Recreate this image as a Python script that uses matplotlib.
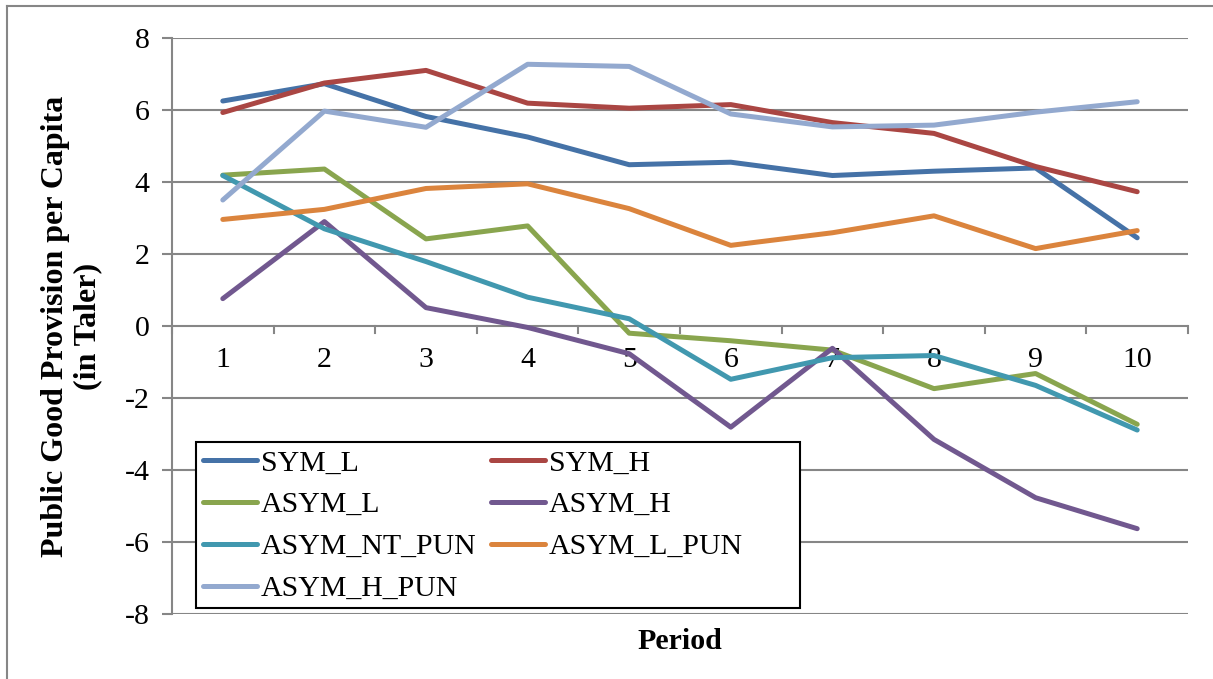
import matplotlib.pyplot as plt
from matplotlib.lines import Line2D
from matplotlib.patches import Rectangle

periods = [1, 2, 3, 4, 5, 6, 7, 8, 9, 10]

sym_l = [6.25, 6.73, 5.82, 5.25, 4.48, 4.55, 4.18, 4.30, 4.39, 2.45]
sym_h = [5.93, 6.75, 7.10, 6.19, 6.05, 6.15, 5.65, 5.35, 4.43, 3.73]
asym_l = [4.19, 4.36, 2.42, 2.78, -0.20, -0.41, -0.67, -1.74, -1.32, -2.73]
asym_h = [0.76, 2.90, 0.51, -0.04, -0.77, -2.81, -0.62, -3.15, -4.77, -5.63]
asym_nt_pun = [4.18, 2.70, 1.79, 0.80, 0.20, -1.48, -0.88, -0.82, -1.65, -2.89]
asym_l_pun = [2.96, 3.24, 3.82, 3.95, 3.26, 2.24, 2.59, 3.06, 2.15, 2.65]
asym_h_pun = [3.50, 5.97, 5.52, 7.27, 7.21, 5.89, 5.53, 5.58, 5.94, 6.23]

names = ["SYM_L", "SYM_H", "ASYM_L", "ASYM_H", "ASYM_NT_PUN", "ASYM_L_PUN", "ASYM_H_PUN"]
series = [sym_l, sym_h, asym_l, asym_h, asym_nt_pun, asym_l_pun, asym_h_pun]
colors = ["#4572A7", "#AA4643", "#89A54E", "#71588F", "#4198AF", "#DB843D", "#93A9CF"]

plt.rcParams['font.family'] = ['Liberation Serif', 'DejaVu Serif']
fs = 21.5

fig = plt.figure(figsize=(12.13, 6.79), dpi=100)
ax = fig.add_axes([172 / 1213, 1 - 614 / 679, 1016 / 1213, 576 / 679])

grid_c = "#868686"
for v in range(-8, 9, 2):
    ax.axhline(v, color=grid_c, lw=1.5, zorder=1)

for s, n, c in zip(series, names, colors):
    ax.plot(periods, s, color=c, lw=3.6, label=n, solid_capstyle='round', zorder=3)

ax.set_xlim(0.5, 10.5)
ax.set_ylim(-8, 8)
ax.set_yticks(range(-8, 9, 2))
ax.set_yticklabels([str(v) for v in range(-8, 9, 2)], fontsize=fs)

for sp in ['top', 'right', 'bottom']:
    ax.spines[sp].set_visible(False)
ax.spines['left'].set_color(grid_c)
ax.spines['left'].set_linewidth(1.5)
ax.tick_params(axis='y', length=7, width=1.5, color=grid_c, pad=9)

# category axis sits at y = 0
ax.set_xticks([])
for b in range(11):
    ax.plot([b + 0.5, b + 0.5], [0, -0.2], color=grid_c, lw=1.5, zorder=1, clip_on=False)
for p in periods:
    ax.text(p, -0.95, str(p), ha='center', va='center', fontsize=fs, zorder=2)

ax.set_xlabel("Period", fontsize=fs, fontweight='bold', labelpad=10)
ax.set_ylabel("Public Good Provision per Capita\n(in Taler)", fontsize=23,
              fontweight='bold', labelpad=16, linespacing=1.15)

# legend filled row by row like the original, box drawn separately
order = [0, 2, 4, 6, 1, 3, 5]
handles = [Line2D([0], [0], color=colors[i], lw=3.6, solid_capstyle='round') for i in order]
labels = [names[i] for i in order]
box = Rectangle((0.0236, 0.0104), 0.5945, 0.288, transform=ax.transAxes,
                facecolor='white', edgecolor='black', lw=1.5, zorder=4)
ax.add_patch(box)
leg = ax.legend(handles, labels, loc='upper left', bbox_to_anchor=(0.0236, 0.2984),
                borderaxespad=0, ncol=2, fontsize=fs, frameon=False,
                handlelength=1.8, handletextpad=0.12, columnspacing=0.5,
                labelspacing=0.5, borderpad=0.25)
leg.set_zorder(5)

# outer chart border (only top and left visible in the crop)
fig.add_artist(Line2D([7 / 1213, 7 / 1213], [0, 1 - 6 / 679], color=grid_c, lw=1.5))
fig.add_artist(Line2D([7 / 1213, 1], [1 - 6 / 679, 1 - 6 / 679], color=grid_c, lw=1.5))

fig.savefig("out.png", dpi=100)
